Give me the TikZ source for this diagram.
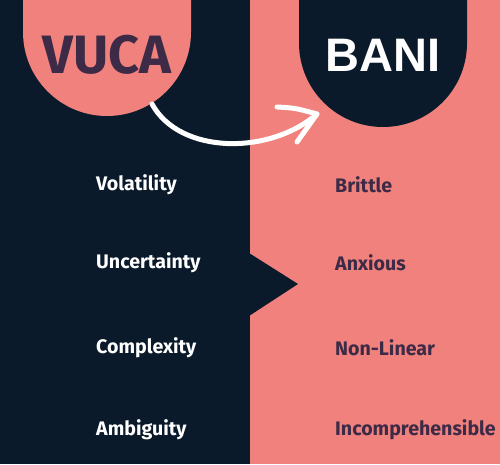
\documentclass[tikz,border=0pt]{standalone}
\usepackage{fontspec}
\setmainfont{Fira Sans}
\newfontfamily\banifont{Liberation Sans}
\definecolor{navy}{RGB}{10,26,42}
\definecolor{coral}{RGB}{240,129,125}
\definecolor{plum}{RGB}{60,42,70}
\tikzset{
  lefttxt/.style={anchor=west, text=white, font=\fontsize{19.6}{22}\selectfont\bfseries, inner sep=0pt},
  righttxt/.style={anchor=west, text=plum, font=\fontsize{19.6}{22}\selectfont\bfseries, inner sep=0pt},
  arrowline/.style={draw=white, line width=5pt, line cap=round, line join=round}
}
\begin{document}
\begin{tikzpicture}[x=1pt,y=-1pt]
\useasboundingbox (0,0) rectangle (500,464);
% backgrounds
\fill[navy] (0,0) rectangle (250,464);
\fill[coral] (250,0) rectangle (500,464);
\fill[navy] (249,253) -- (298,284) -- (249,316) -- cycle;
% pills
\fill[coral] (23,-5) -- (23,32) arc[start angle=180,end angle=0,radius=84] -- (191,-5) -- cycle;
\fill[navy] (299,-5) -- (299,43) arc[start angle=180,end angle=0,radius=84] -- (467,-5) -- cycle;
\node[text=plum, font=\fontsize{54}{58}\selectfont\bfseries, inner sep=0pt] (vuca) at (107,55) {VUCA};
\node[text=white, font=\banifont\fontsize{47}{50}\selectfont\bfseries, inner sep=0pt] (bani) at (383,55) {BANI};
% arrow
\coordinate (astart) at (152,104);
\coordinate (atip) at (317,114);
\coordinate (aup) at (277,107);
\coordinate (alow) at (297,142);
\draw[arrowline] (astart) .. controls (180,155) and (270,155) .. (atip);
\draw[arrowline] (aup) .. controls (295,108) .. (atip) -- (alow);
% labels
\node[lefttxt] (v) at (96,185) {Volatility};
\node[lefttxt] (u) at (96,263) {Uncertainty};
\node[lefttxt] (c) at (96,348) {Complexity};
\node[lefttxt] (a) at (96,430) {Ambiguity};
\node[righttxt] (b) at (335,185) {Brittle};
\node[righttxt] (x) at (335,263) {Anxious};
\node[righttxt] (n) at (335,348) {Non-Linear};
\node[righttxt] (i) at (335,430) {Incomprehensible};
\end{tikzpicture}
\end{document}
